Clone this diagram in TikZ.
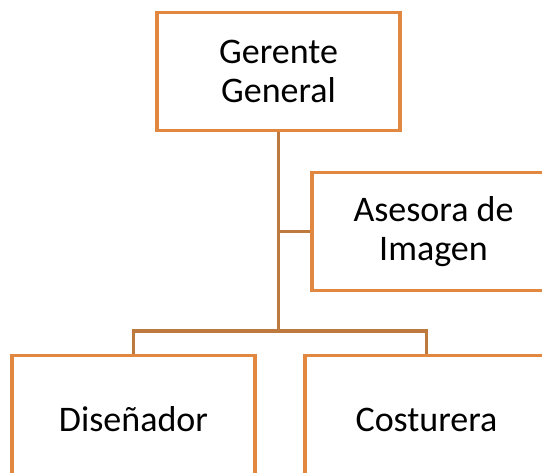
\documentclass[tikz,border=0pt]{standalone}
\usepackage{fontspec}
\setmainfont{Carlito}
\definecolor{boxline}{HTML}{E2873F}
\definecolor{connline}{HTML}{BE7A3E}
\begin{document}
\begin{tikzpicture}[x=1pt,y=-1pt,
  orgbox/.style={draw=boxline, line width=3.2pt, fill=white, minimum width=243pt, minimum height=118pt,
    align=center, inner sep=0pt, font=\fontsize{36}{38.5}\selectfont, text=black},
  conn/.style={draw=connline, line width=3.2pt}]
\useasboundingbox (0,0) rectangle (542,473);
\clip (0,0) rectangle (542,473);
\node[orgbox] (g) at (278.5,71.5) {Gerente\\General};
\node[orgbox] (a) at (433.5,231.5) {Asesora de\\Imagen};
\node[orgbox, minimum height=128pt] (d) at (133.5,419.5) {Diseñador};
\node[orgbox, minimum height=128pt] (c) at (426.5,419.5) {Costurera};
\coordinate (bar) at (278.5,331);
\draw[conn] (g.south) -- (bar);
\draw[conn] (a.west) -- (a.west -| g.south);
\draw[conn] (d.north) |- (bar) -| (c.north);
\end{tikzpicture}
\end{document}
